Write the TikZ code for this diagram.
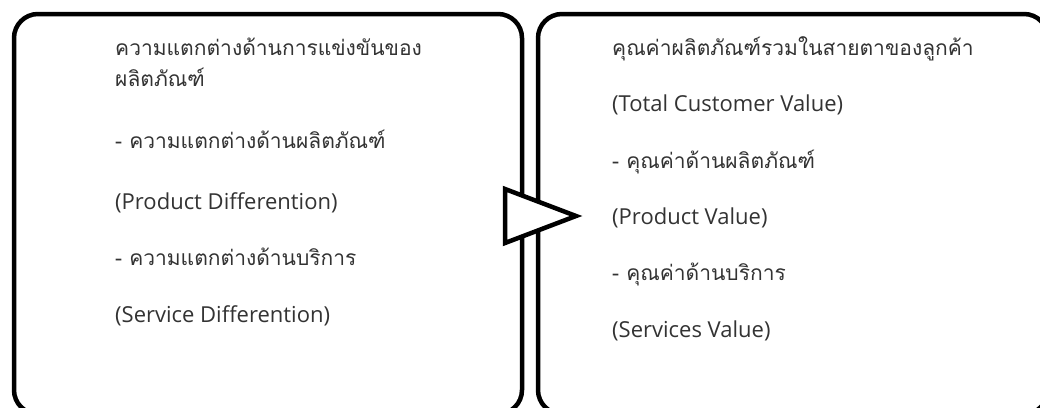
\documentclass[tikz,border=0pt]{standalone}
\usepackage{fontspec}
\setmainfont{Open Sans}
\newfontfamily\thaifont[Script=Thai]{Loma}
\newfontfamily\latfont{Open Sans}
\tikzset{
  panel/.style={draw=black, line width=4.5pt, rounded corners=24pt},
  thl/.style={anchor=base west, inner sep=0pt, text=black!80, font=\thaifont\fontsize{21}{25}\selectfont},
  ltl/.style={anchor=base west, inner sep=0pt, text=black!80, font=\latfont\fontsize{22}{26}\selectfont},
  pointer/.style={draw=black, fill=white, line width=4.5pt, line join=miter}
}
\begin{document}
\begin{tikzpicture}[x=1pt,y=-1pt]
\useasboundingbox (0,0) rectangle (1040,407);
\clip (0,0) rectangle (1040,407);
\fill[white] (0,0) rectangle (1040,407);
\draw[panel] (14,14) rectangle (522,414);
\draw[panel] (538,14) rectangle (1048,414);
\coordinate (t1) at (505,189);
\coordinate (t2) at (576,216);
\coordinate (t3) at (505,243);
\draw[pointer] (t1) -- (t2) -- (t3) -- cycle;
% left panel text
\node[thl] (l1) at (115,55) {ความแตกต่างด้านการแข่งขันของ};
\node[thl] (l2) at (115,86) {ผลิตภัณฑ์};
\node[thl] (l3) at (115,148) {- ความแตกต่างด้านผลิตภัณฑ์};
\node[ltl] (l4) at (115,209) {(Product Differention)};
\node[thl] (l5) at (115,265) {- ความแตกต่างด้านบริการ};
\node[ltl] (l6) at (115,322) {(Service Differention)};
% right panel text
\node[thl] (r1) at (612,55) {คุณค่าผลิตภัณฑ์รวมในสายตาของลูกค้า};
\node[ltl] (r2) at (612,111) {(Total Customer Value)};
\node[thl] (r3) at (612,168) {- คุณค่าด้านผลิตภัณฑ์};
\node[ltl] (r4) at (612,224) {(Product Value)};
\node[thl] (r5) at (612,280) {- คุณค่าด้านบริการ};
\node[ltl] (r6) at (612,337) {(Services Value)};
\end{tikzpicture}
\end{document}
